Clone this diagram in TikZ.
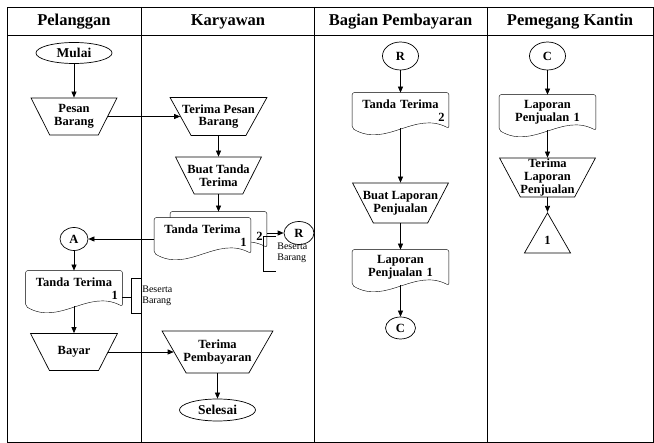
\documentclass[tikz,border=0pt]{standalone}
\usepackage{fontspec}
\setmainfont{Liberation Serif}
\usepackage{tikz}
\usetikzlibrary{
  arrows.meta,positioning,shapes.geometric,backgrounds,calc
}
\tikzset{
  lane/.style={font=\fontsize{16.5}{18}\bfseries},
  term/.style={draw,ellipse,minimum width=76,minimum height=21,inner sep=0,fill=white,
    font=\fontsize{13.5}{14}\bfseries},
  conn/.style={draw,ellipse,inner sep=0,fill=white},
  manop/.style={draw,trapezium,shape border rotate=180,trapezium left angle=69,
    trapezium right angle=69,trapezium stretches=true,inner sep=5,fill=white},
  doc/.style={rectangle,minimum width=96,minimum height=35,inner sep=3,text width=88,align=center},
  note/.style={font=\fontsize{10}{11.5}\selectfont,align=left,inner sep=1},
  offpage/.style={draw,isosceles triangle,shape border rotate=90,
    isosceles triangle stretches=true,minimum width=46,minimum height=40,inner sep=0},
  every node/.style={font=\fontsize{12.5}{12.8}\bfseries},
  every label/.style={align=center}
}
\tikzstyle{arrow} = [->,>={Triangle[length=6pt,width=5pt]}]

\begin{document}
\begin{tikzpicture}[x=1pt,y=-1pt,line width=0.7pt]
  \useasboundingbox (0,0) rectangle (654,443);
  % lanes
  \draw (7,7) rectangle (653,442);
  \draw (7,35.5) -- (653,35.5);
  \foreach \x in {141.5,314.5,487} \draw (\x,7) -- (\x,442);
  \node[lane] (hPel) at (74,22) {Pelanggan};
  \node[lane] (hKar) at (228,22) {Karyawan};
  \node[lane] (hBag) at (400.5,22) {Bagian Pembayaran};
  \node[lane] (hKan) at (570,22) {Pemegang Kantin};

  % Pelanggan
  \node[term] (mulai) at (74,53) {Mulai};
  \node[manop,minimum width=86,minimum height=37,label=center:{Pesan\\Barang}] (pesan) at (74,116.5) {};
  \node[conn,minimum width=28,minimum height=23] (a) at (74,239) {A};
  \node[doc] (tt1) at (74,288.5) {Tanda Terima\\\hfill 1};
  \node[note,anchor=west] (nt1) at (141,296) {Beserta\\Barang};
  \node[manop,minimum width=87,minimum height=37,label=center:Bayar] (bayar) at (74,352) {};

  % Karyawan
  \node[manop,minimum width=97,minimum height=38,label=center:{Terima Pesan\\Barang}] (tpb) at (218.5,116.5) {};
  \node[manop,minimum width=86,minimum height=37,label=center:{Buat Tanda\\Terima}] (btt) at (218.5,175.5) {};
  \node[doc] (tk2) at (218.5,229.5) {\strut\\\hfill 2};
  \node[doc] (tk1) at (202.5,235.5) {Tanda Terima\\\hfill 1};
  \node[conn,minimum width=30,minimum height=23] (rk) at (299,233) {R};
  \node[note,anchor=west] (nt2) at (276,253) {Beserta\\Barang};
  \node[manop,minimum width=111,minimum height=42,label=center:{Terima\\Pembayaran}] (tpem) at (217.5,352) {};
  \node[term,minimum height=22] (selesai) at (217.5,410) {Selesai};

  % Bagian Pembayaran
  \node[conn,minimum width=36,minimum height=28] (rb) at (400.5,56) {R};
  \node[doc] (tt2) at (400.5,110.5) {Tanda Terima\\\hfill 2};
  \node[manop,minimum width=96,minimum height=40,label=center:{Buat Laporan\\Penjualan}] (blp) at (400.5,203) {};
  \node[doc] (lp1) at (400.5,267.5) {Laporan\\Penjualan 1};
  \node[conn,minimum width=30,minimum height=22] (cb) at (400.5,328) {C};

  % Pemegang Kantin
  \node[conn,minimum width=36,minimum height=28] (ck) at (547.5,56) {C};
  \node[doc] (lp2) at (547.5,112.5) {Laporan\\Penjualan 1};
  \node[manop,minimum width=96,minimum height=39,label=center:{Terima\\Laporan\\Penjualan}] (tlp) at (547.5,177.5) {};
  \node[offpage,anchor=apex] (tri) at (547.5,212) {1};

  % document outlines
  \begin{scope}[on background layer]
    \foreach \d in {tt1,tk2,tk1,tt2,lp1,lp2}
      \draw[fill=white,rounded corners=2] (\d.south east)
        .. controls +(-34,-18) and +(34,20) .. (\d.south west)
        -- (\d.north west) -- (\d.north east) -- cycle;
  \end{scope}

  % flow
  \draw[arrow] (mulai) -- (pesan);
  \draw[arrow] (pesan) -- (tpb);
  \draw[arrow] (tpb) -- (btt);
  \draw[arrow] (btt) -- (tk2.north);
  \draw[arrow] (tk1.west |- a) -- (a);
  \draw[arrow] (tk2.east |- rk) -- (rk);
  \draw[arrow] (a) -- (tt1.north);
  \draw[arrow] (tt1.south) -- (bayar);
  \draw[arrow] (bayar) -- (tpem);
  \draw[arrow] (tpem) -- (selesai);
  \draw[arrow] (rb) -- (tt2.north);
  \draw[arrow] (tt2.south) -- (blp);
  \draw[arrow] (blp) -- (lp1.north);
  \draw[arrow] (lp1.south) -- (cb);
  \draw[arrow] (ck) -- (lp2.north);
  \draw[arrow] (lp2.south) -- (tlp);
  \draw[arrow] (tlp) -- (tri.apex);

  % beserta barang
  \draw ([yshift=-8.5]tt1.east) -- ++(9,0);
  \draw (141,278) -| (131,313) -- (141,313);
  \draw (276,236) -| (263,271) -- (276,271);
\end{tikzpicture}
\end{document}
